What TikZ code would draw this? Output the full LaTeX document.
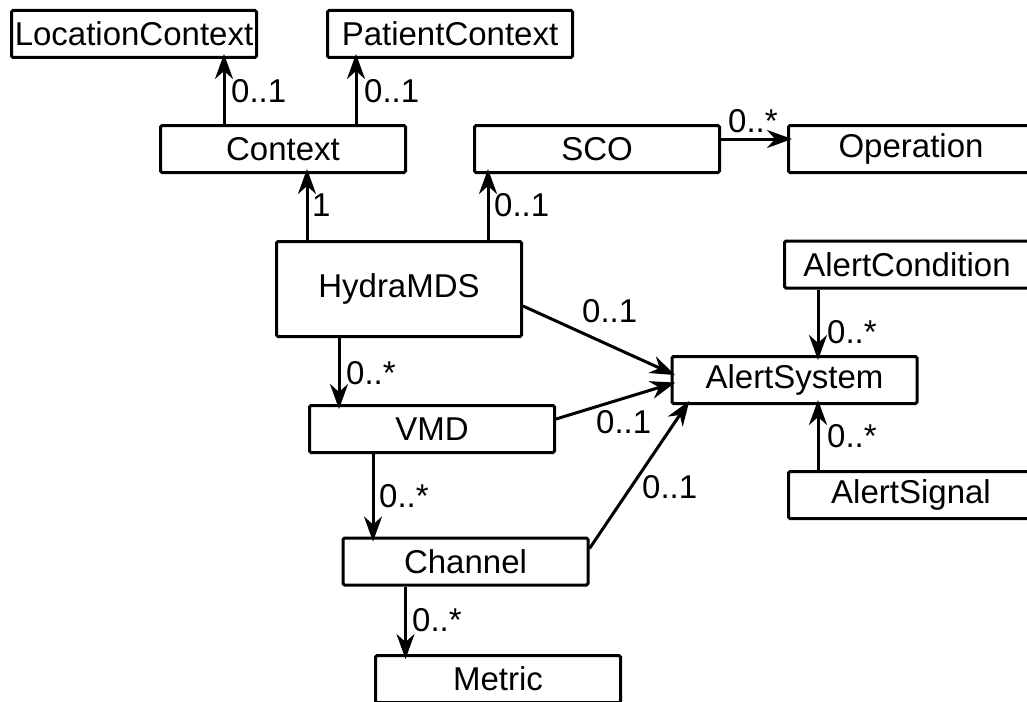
\documentclass[tikz,border=0pt]{standalone}
\usepackage{fontspec}
\setmainfont{Liberation Sans}
\usetikzlibrary{arrows.meta}

\begin{document}
\begin{tikzpicture}[x=1pt, y=-1pt,
  cls/.style={draw, line width=3pt, rounded corners=1.5pt, minimum width=245pt,
    minimum height=47pt, inner sep=0pt, font=\fontsize{33pt}{40pt}\selectfont},
  assoc/.style={line width=3pt, -{Stealth[length=25pt, width=18pt, inset=8pt]},
    shorten >=-5pt},
  mult/.style={anchor=base west, inner sep=0pt, font=\fontsize{33pt}{40pt}\selectfont}]
\clip (0,0) rectangle (1027,701);
% classes
\node[cls] (LocationContext) at (134,34) {LocationContext};
\node[cls] (PatientContext) at (450,34) {PatientContext};
\node[cls] (Context) at (283,149) {Context};
\node[cls] (SCO) at (597,149) {SCO};
\node[cls] (Operation) at (911,149) {Operation};
\node[cls, minimum height=95pt] (HydraMDS) at (399,289) {HydraMDS};
\node[cls] (AlertCondition) at (907,264.5) {AlertCondition};
\node[cls] (AlertSystem) at (794.5,380) {AlertSystem};
\node[cls] (VMD) at (432,429) {VMD};
\node[cls] (AlertSignal) at (911,495) {AlertSignal};
\node[cls] (Channel) at (465.5,561.5) {Channel};
\node[cls] (Metric) at (498,679) {Metric};
% associations
\draw[assoc] ([xshift=-59pt]Context.north) -- ([xshift=-59pt]Context.north |- LocationContext.south);
\draw[assoc] ([xshift=73pt]Context.north) -- ([xshift=73pt]Context.north |- PatientContext.south);
\draw[assoc] ([xshift=-92pt]HydraMDS.north) -- ([xshift=-92pt]HydraMDS.north |- Context.south);
\draw[assoc] ([xshift=89pt]HydraMDS.north) -- ([xshift=89pt]HydraMDS.north |- SCO.south);
\draw[assoc] ([yshift=10pt]SCO.east) -- ([yshift=10pt]Operation.west);
\draw[assoc] ([yshift=-17pt]HydraMDS.east) -- ([yshift=7pt]AlertSystem.west);
\draw[assoc] ([yshift=10pt]VMD.east) -- ([yshift=-4pt]AlertSystem.west);
\draw[assoc] ([yshift=13pt]Channel.east) -- ([xshift=16pt]AlertSystem.south west);
\draw[assoc] ([xshift=-60pt]HydraMDS.south) -- ([xshift=-60pt]HydraMDS.south |- VMD.north);
\draw[assoc] ([xshift=-59pt]VMD.south) -- ([xshift=-59pt]VMD.south |- Channel.north);
\draw[assoc] ([xshift=-60pt]Channel.south) -- ([xshift=-60pt]Channel.south |- Metric.north);
\draw[assoc] ([xshift=-89pt]AlertCondition.south) -- ([xshift=-89pt]AlertCondition.south |- AlertSystem.north);
\draw[assoc] ([xshift=-93pt]AlertSignal.north) -- ([xshift=-93pt]AlertSignal.north |- AlertSystem.south);
% multiplicities
\node[mult] (mLoc) at (231,102) {0..1};
\node[mult] (mPat) at (364,102) {0..1};
\node[mult] (mCtx) at (312,216) {1};
\node[mult] (mSco) at (494,216) {0..1};
\node[mult] (mOp) at (728,132) {0..*};
\node[mult] (mMdsAl) at (582,322) {0..1};
\node[mult] (mVmd) at (346,384) {0..*};
\node[mult] (mVmdAl) at (596,433) {0..1};
\node[mult] (mChAl) at (642,498) {0..1};
\node[mult] (mCh) at (379,507) {0..*};
\node[mult] (mMet) at (412,631) {0..*};
\node[mult] (mCond) at (827,343) {0..*};
\node[mult] (mSig) at (827,447) {0..*};
\end{tikzpicture}
\end{document}
